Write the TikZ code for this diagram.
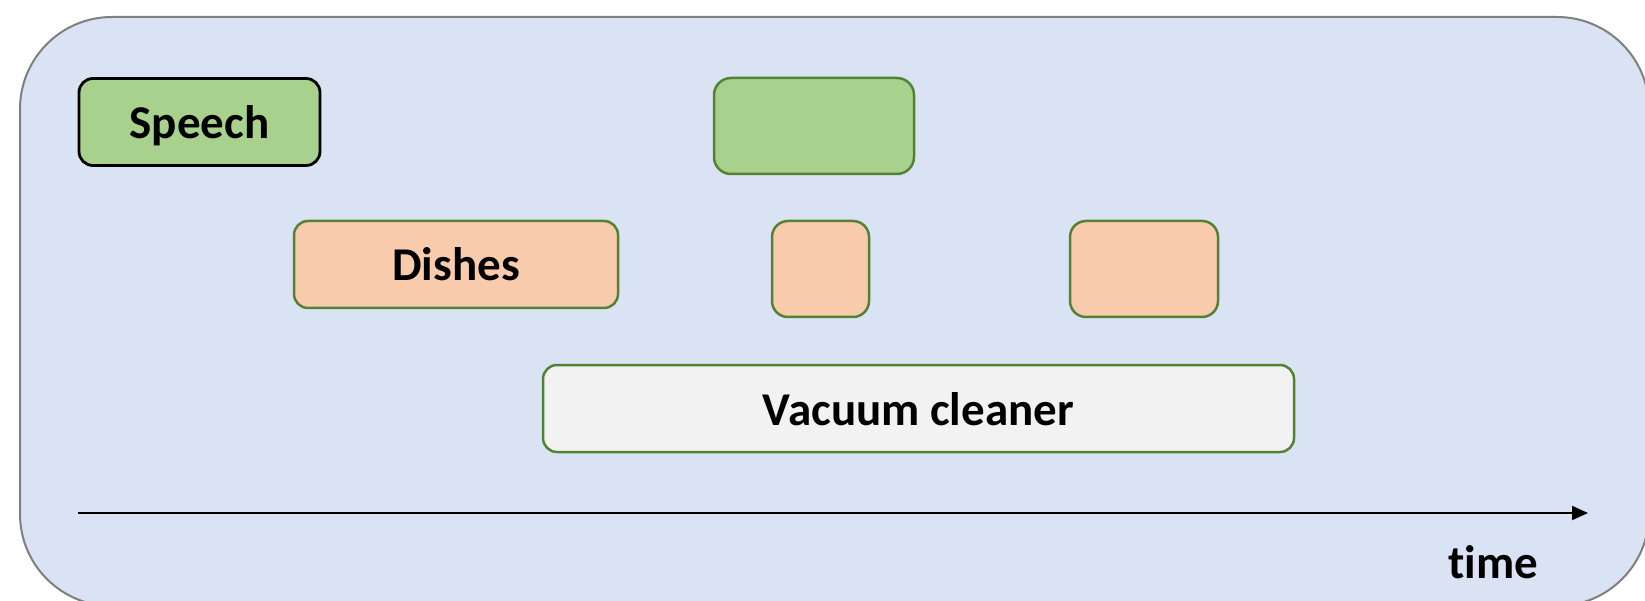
\documentclass[tikz,border=0pt]{standalone}
\usepackage{fontspec}
\setmainfont{Carlito}[Ligatures=NoCommon]
\usetikzlibrary{arrows.meta}

\definecolor{panelfill}{HTML}{DAE3F3}
\definecolor{panelline}{HTML}{7F7F7F}
\definecolor{speechfill}{HTML}{A9D18E}
\definecolor{dishfill}{HTML}{F8CBAD}
\definecolor{vacfill}{HTML}{F2F2F2}
\definecolor{boxline}{HTML}{548235}

\tikzset{
  lbl/.style={font=\fontsize{47}{56}\selectfont\bfseries, text=black},
  evbox/.style={draw=boxline, line width=2.5pt, rounded corners=14pt,
    inner sep=0pt, text height=33pt, text depth=-3pt, lbl},
  speechbox/.style={evbox, fill=speechfill},
  dishbox/.style={evbox, fill=dishfill},
  vacbox/.style={evbox, fill=vacfill},
}

\begin{document}
\begin{tikzpicture}[x=1pt, y=-1pt]
  \useasboundingbox (0,0) rectangle (1645,601);
  \clip (0,0) rectangle (1645,601);

  % background panel
  \draw[fill=panelfill, draw=panelline, line width=2pt, rounded corners=92pt]
    (20,17) rectangle (1649,606);

  % speech events
  \node[speechbox, draw=black, line width=2.8pt, minimum width=241pt, minimum height=87pt]
    (sp1) at (199.5,122) {Speech};
  \node[speechbox, minimum width=200pt, minimum height=96pt, rounded corners=17pt]
    (sp2) at (814,126) {};

  % dish events
  \node[dishbox, minimum width=324pt, minimum height=87pt]
    (d1) at (456,264.5) {Dishes};
  \node[dishbox, minimum width=97pt, minimum height=96pt, rounded corners=16pt]
    (d2) at (820.5,269) {};
  \node[dishbox, minimum width=148pt, minimum height=96pt, rounded corners=16pt]
    (d3) at (1144,269) {};

  % vacuum cleaner event
  \node[vacbox, minimum width=751pt, minimum height=87pt]
    (vac) at (918.5,408.5) {Vacuum cleaner};

  % time axis
  \coordinate (t0) at (78,513);
  \coordinate (t1) at (1588,513);
  \draw[line width=2pt, -{Triangle[length=16pt,width=14pt]}] (t0) -- (t1);
  \node[lbl, anchor=base, inner sep=0pt] (tlabel) at (1493,578) {time};
\end{tikzpicture}
\end{document}
